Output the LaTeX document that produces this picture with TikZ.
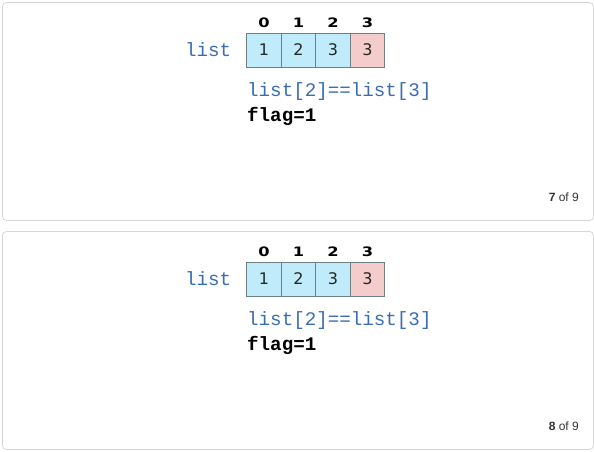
\documentclass[tikz,border=0pt]{standalone}
\usepackage{fontspec}
\setmainfont{Liberation Sans}
\setmonofont{Liberation Mono}
\newfontfamily\digitfont{DejaVu Sans}
\usetikzlibrary{positioning}
\definecolor{cellblue}{HTML}{BFEBFA}
\definecolor{cellred}{HTML}{F4CCCB}
\definecolor{cellline}{HTML}{6F7F82}
\definecolor{codeblue}{HTML}{3A6CB4}
\definecolor{panelline}{HTML}{D6D6D6}
\begin{document}
\begin{tikzpicture}[x=1pt,y=-1pt,
    panel/.style={draw=panelline, rounded corners=4pt, line width=0.8pt},
    cell/.style={draw=cellline, fill=cellblue, line width=0.8pt, minimum width=34.5pt,
      minimum height=34pt, inner sep=0pt, text=black!85,
      font=\fontsize{16}{16}\digitfont},
    hit/.style={cell, fill=cellred},
    idx/.style={font=\fontsize{13}{13}\digitfont\bfseries, inner sep=0pt,
      xscale=1.25, transform shape},
    code/.style={font=\fontsize{19.2}{19.2}\ttfamily, text=codeblue, inner sep=0pt},
    flagtext/.style={font=\fontsize{19.2}{19.2}\ttfamily\bfseries, inner sep=0pt},
    pager/.style={font=\fontsize{12}{12}\selectfont, text=black!80, inner sep=0pt}]

  \useasboundingbox (0,0) rectangle (594,451);

  % panel 7 of 9
  \draw[panel] (2.5,2.5) rectangle (593.5,220.5);
  \begin{scope}[every node/.style={cell}]
    \node (a1) at (264,50)   {1};
    \node (a2) at (298.5,50) {2};
    \node (a3) at (333,50)   {3};
    \node[hit] (a4) at (367.5,50) {3};
  \end{scope}
  \begin{scope}[every node/.style={idx}]
    \node (ai0) at (264,23)   {0};
    \node (ai1) at (298.5,23) {1};
    \node (ai2) at (333,23)   {2};
    \node (ai3) at (367.5,23) {3};
  \end{scope}
  \node[code, left=15pt of a1] (alist) {list};
  \node[code, anchor=west] (acmp) at (247,92) {list[2]==list[3]};
  \node[flagtext, anchor=west] (aflag) at (247,116) {flag=1};
  \node[pager, anchor=east] (apage) at (579,197) {\textbf{7} of 9};

  % panel 8 of 9
  \draw[panel] (2.5,231.5) rectangle (593.5,449.5);
  \begin{scope}[every node/.style={cell}]
    \node (b1) at (264,279)   {1};
    \node (b2) at (298.5,279) {2};
    \node (b3) at (333,279)   {3};
    \node[hit] (b4) at (367.5,279) {3};
  \end{scope}
  \begin{scope}[every node/.style={idx}]
    \node (bi0) at (264,252)   {0};
    \node (bi1) at (298.5,252) {1};
    \node (bi2) at (333,252)   {2};
    \node (bi3) at (367.5,252) {3};
  \end{scope}
  \node[code, left=15pt of b1] (blist) {list};
  \node[code, anchor=west] (bcmp) at (247,321) {list[2]==list[3]};
  \node[flagtext, anchor=west] (bflag) at (247,345) {flag=1};
  \node[pager, anchor=east] (bpage) at (579,426) {\textbf{8} of 9};

\end{tikzpicture}
\end{document}
